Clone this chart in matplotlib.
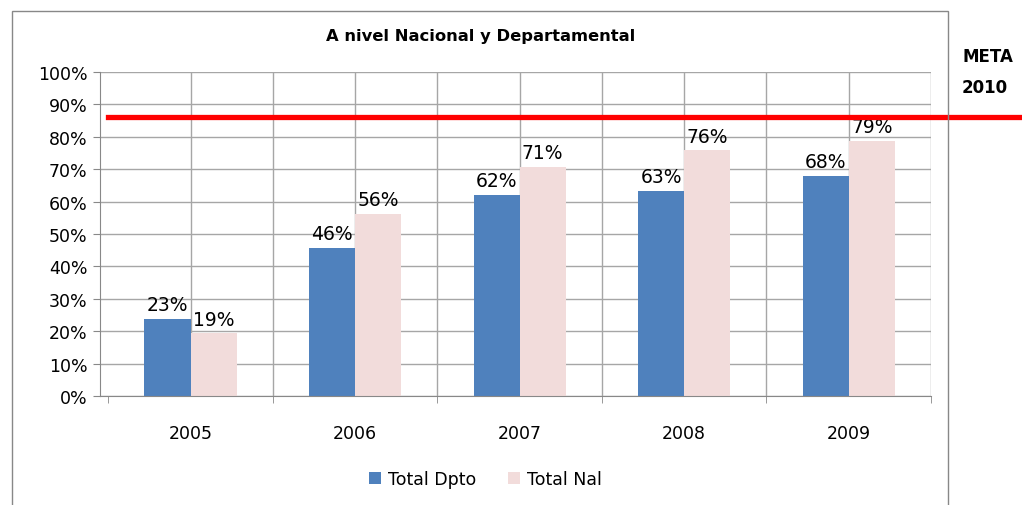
import numpy as np
import matplotlib.pyplot as plt
from matplotlib.patches import Rectangle

# Data
years = ['2005', '2006', '2007', '2008', '2009']
total_dpto = [23.7, 45.6, 62.0, 63.4, 68.0]
total_nal = [19.3, 56.2, 70.6, 75.8, 78.7]
dpto_labels = ['23%', '46%', '62%', '63%', '68%']
nal_labels = ['19%', '56%', '71%', '76%', '79%']
meta = 86
yticks = np.arange(0, 101, 10)

blue = '#4f81bd'
pink = '#f2dcdb'
grid = '#a6a6a6'

fig = plt.figure(figsize=(10.22, 5.06), dpi=100)
ax = fig.add_axes([100/1022, 1 - 397/506, 831/1022, 324/506])

x = np.arange(len(years))
w = 0.28
ax.bar(x - w/2, total_dpto, w, color=blue, label='Total Dpto', zorder=2)
ax.bar(x + w/2, total_nal, w, color=pink, label='Total Nal', zorder=2)

for xi, v, s in zip(x, total_dpto, dpto_labels):
    ax.text(xi - w/2, v + 1.5, s, ha='center', va='bottom', fontsize=13.5, zorder=3)
for xi, v, s in zip(x, total_nal, nal_labels):
    ax.text(xi + w/2, v + 1.5, s, ha='center', va='bottom', fontsize=13.5, zorder=3)

# target line, runs past the plot to the figure edge
ax.axhline(meta, xmin=0.01, xmax=1.12, color='red', lw=3.8, clip_on=False, zorder=5)

ax.set_xlim(-0.55, 4.5)
ax.set_ylim(0, 100)
ax.set_yticks(yticks)
ax.set_yticklabels([f'{t}%' for t in yticks], fontsize=12.5)
ax.set_xticks(x)
ax.set_xticklabels(years, fontsize=12.5)
ax.tick_params(axis='x', length=0, pad=20)
ax.tick_params(axis='y', length=5, color='#888888', pad=4)
ax.set_xticks(np.arange(-0.5, 4.6, 1), minor=True)
ax.tick_params(axis='x', which='minor', length=5, color='#888888', direction='out')

ax.yaxis.grid(True, color=grid, lw=1, zorder=0)
for gx in np.arange(-0.5, 4.6, 0.5)[1:]:
    ax.axvline(gx, color=grid, lw=1, zorder=0)
for side in ['top', 'right']:
    ax.spines[side].set_visible(False)
ax.spines['left'].set_color('#888888')
ax.spines['bottom'].set_color('#888888')

# outer chart border
fig.patches.append(Rectangle((12/1022, -0.02), (948 - 12)/1022, 1.0 - 12/506 + 0.02,
                             transform=fig.transFigure, fill=False,
                             edgecolor='#888888', lw=1))

fig.text(481/1022, 1 - 37/506, 'A nivel Nacional y Departamental',
         ha='center', va='center', fontsize=11.8, fontweight='bold')
fig.text(988/1022, 1 - 57/506, 'META', ha='center', va='center', fontsize=12,
         fontweight='bold', bbox=dict(facecolor='white', edgecolor='none', pad=2))
fig.text(985/1022, 1 - 88/506, '2010', ha='center', va='center', fontsize=12,
         fontweight='bold', bbox=dict(facecolor='white', edgecolor='none', pad=2))

fig.legend(loc='center', bbox_to_anchor=(0.475, 1 - 480/506), ncol=2, frameon=False,
           fontsize=12.5, handlelength=0.7, handleheight=0.7, columnspacing=1.8,
           handletextpad=0.4)

fig.savefig('out.png', dpi=100)
